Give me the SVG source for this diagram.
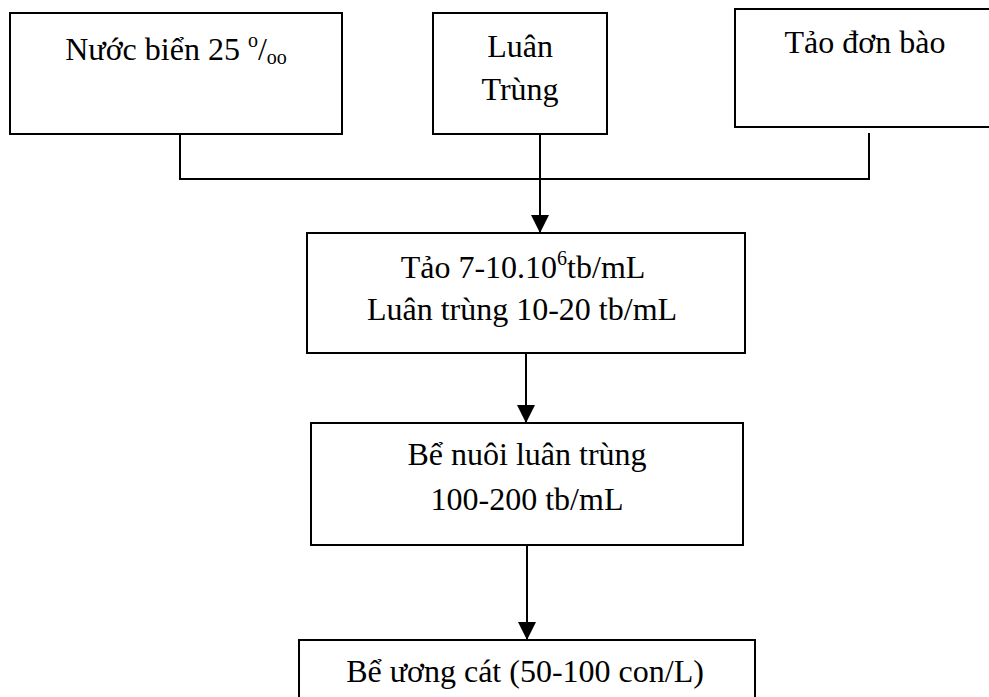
<svg xmlns="http://www.w3.org/2000/svg" width="989" height="697" viewBox="0 0 989 697">
<style>
  .box { fill: #fff; stroke: #000; stroke-width: 2; }
  .t { font-family: "Liberation Serif", "Times New Roman", serif; font-size: 32px; fill: #000; text-anchor: middle; }
  .c { fill: none; stroke: #000; stroke-width: 2; }
</style>
<defs>
  <marker id="arr" markerUnits="userSpaceOnUse" markerWidth="18" markerHeight="18" viewBox="0 0 16 16" refX="16" refY="8" orient="auto">
    <path d="M0,0 L16,8 L0,16 Z" fill="#000"/>
  </marker>
</defs>
<rect width="989" height="697" fill="#fff"/>
<g id="n1">
  <rect class="box" x="10" y="13" width="332" height="121"/>
  <text class="t" x="176" y="60">Nước biển 25 <tspan font-size="20" dy="-13">o</tspan><tspan dy="13">/</tspan><tspan font-size="20" dy="4">oo</tspan></text>
</g>
<g id="n2">
  <rect class="box" x="433" y="13" width="174" height="121"/>
  <text class="t" x="520" y="57">Luân</text>
  <text class="t" x="520" y="100">Trùng</text>
</g>
<g id="n3">
  <rect class="box" x="735" y="9" width="262" height="118"/>
  <text class="t" x="865" y="53">Tảo đơn bào</text>
</g>
<g id="n4">
  <rect class="box" x="307" y="233" width="438" height="120"/>
  <text class="t" x="523" y="278">Tảo 7-10.10<tspan font-size="20" dy="-13">6</tspan><tspan dy="13">tb/mL</tspan></text>
  <text class="t" x="522" y="320">Luân trùng 10-20 tb/mL</text>
</g>
<g id="n5">
  <rect class="box" x="311" y="423" width="432" height="122"/>
  <text class="t" x="527" y="465">Bể nuôi luân trùng</text>
  <text class="t" x="527" y="510">100-200 tb/mL</text>
</g>
<g id="n6">
  <rect class="box" x="299" y="640" width="456" height="70"/>
  <text class="t" x="525" y="682">Bể ương cát (50-100 con/L)</text>
</g>
<g id="connectors">
  <polyline class="c" points="180,134 180,179 869,179 869,133"/>
  <line class="c" x1="540" y1="134" x2="540" y2="233" marker-end="url(#arr)"/>
  <line class="c" x1="526" y1="353" x2="526" y2="423" marker-end="url(#arr)"/>
  <line class="c" x1="527" y1="545" x2="527" y2="640" marker-end="url(#arr)"/>
</g>
</svg>
